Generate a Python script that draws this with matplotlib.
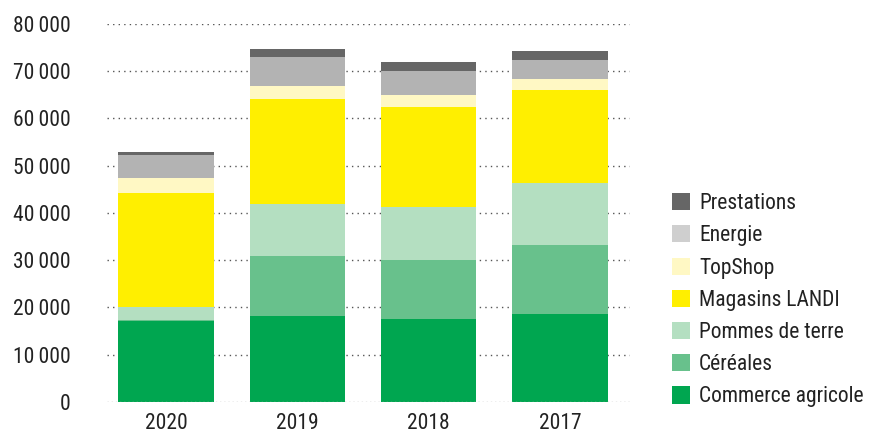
import matplotlib
matplotlib.use("Agg")
import matplotlib.pyplot as plt
from matplotlib.patches import Patch
import numpy as np

years = ["2020", "2019", "2018", "2017"]
series_names = ["Commerce agricole", "Céréales", "Pommes de terre",
                "Magasins LANDI", "TopShop", "Energie", "Prestations"]
commerce = [17100, 18160, 17520, 18580]
cereales = [300, 12710, 12500, 14620]
pommes = [2660, 11010, 11230, 13140]
magasins = [24160, 22250, 21190, 19700]
topshop = [3170, 2740, 2540, 2330]
energie = [4860, 6160, 5080, 4020]
prestations = [650, 1690, 1910, 1910]
values = [commerce, cereales, pommes, magasins, topshop, energie, prestations]
bar_colors = ["#00a650", "#68c18c", "#b4dfc1", "#ffef00", "#fff8c4", "#b3b3b3", "#666666"]
legend_colors = ["#00a650", "#68c18c", "#b4dfc1", "#ffef00", "#fff8c4", "#cfcfcf", "#666666"]
yticks = [0, 10000, 20000, 30000, 40000, 50000, 60000, 70000, 80000]
ytick_labels = ["0", "10\u2009000", "20\u2009000", "30\u2009000", "40\u2009000",
                "50\u2009000", "60\u2009000", "70\u2009000", "80\u2009000"]

fam = ["Roboto Condensed", "DejaVu Sans"]
plt.rcParams["font.family"] = fam

fig = plt.figure(figsize=(8.77, 4.36), dpi=100)
ax = fig.add_axes([0.122, 0.078, 0.596, 0.867])

x = np.arange(len(years))
bottom = np.zeros(len(years))
for vals, col in zip(values, bar_colors):
    ax.bar(x, vals, width=0.725, bottom=bottom, color=col, zorder=3, linewidth=0)
    bottom += np.array(vals)

ax.set_ylim(0, 80000)
ax.set_xlim(-0.45, 3.53)
ax.set_yticks(yticks)
ax.set_yticklabels(ytick_labels, fontsize=15.5, color="#222222")
ax.set_xticks(x)
ax.set_xticklabels(years, fontsize=15.5, color="#222222")
ax.tick_params(axis="both", length=0)
ax.tick_params(axis="y", pad=26)
ax.tick_params(axis="x", pad=8)
for t in yticks[1:]:
    ax.axhline(t, color="#555555", linestyle=(0, (1, 3)), linewidth=1.0, zorder=1)
ax.axhline(0, color="#aaaaaa", linestyle=(0, (1, 2)), linewidth=1.0, zorder=4)
for s in ax.spines.values():
    s.set_visible(False)

handles = [Patch(facecolor=c, edgecolor="none") for c in legend_colors]
fig.legend(handles[::-1], series_names[::-1], loc="upper left",
           bbox_to_anchor=(0.7565, 0.577), frameon=False, fontsize=15.5,
           handlelength=0.85, handleheight=0.85, handletextpad=0.4,
           labelspacing=0.52, borderaxespad=0, labelcolor="#222222")

fig.savefig("out.png", dpi=100)
